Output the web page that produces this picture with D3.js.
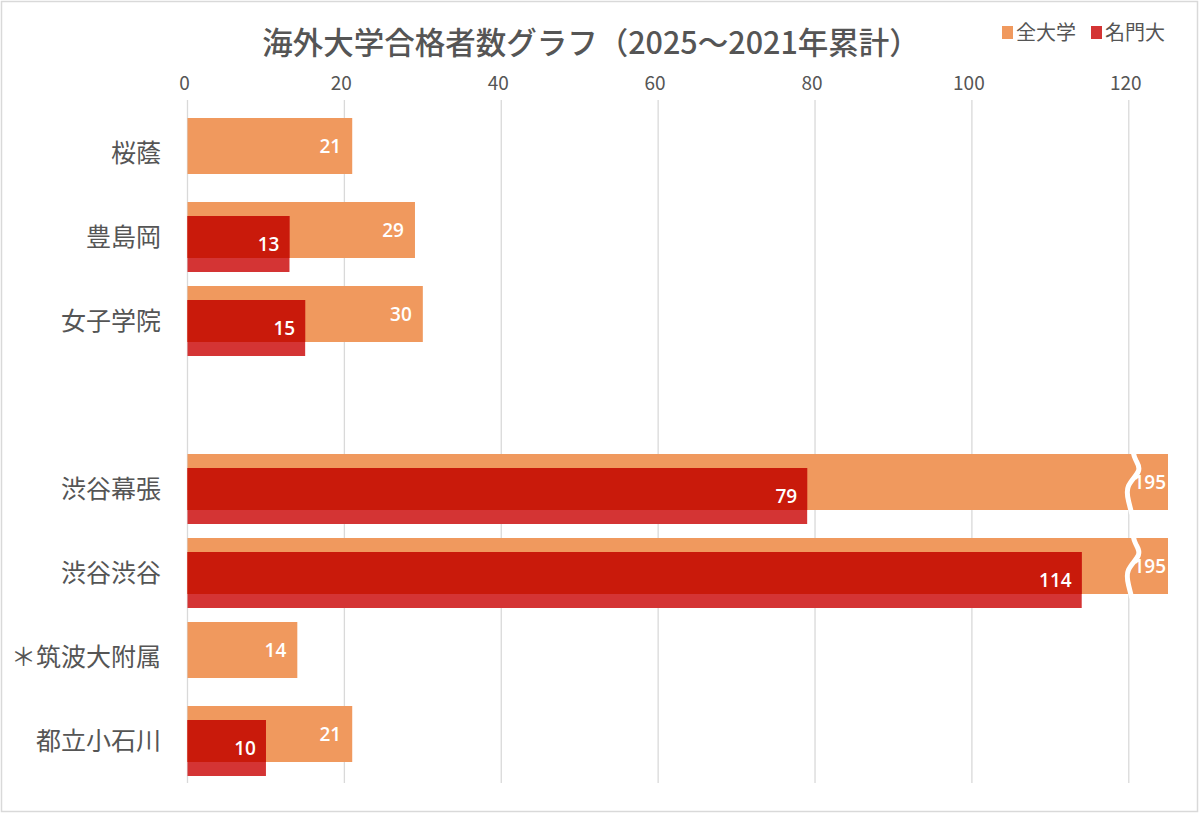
<!DOCTYPE html>
<html>
<head>
<meta charset="utf-8">
<script src="https://cdn.jsdelivr.net/npm/d3@7"></script>
<style>
  body { margin: 0; background: #fff; }
  svg { display: block; }
</style>
</head>
<body>
<svg id="chart" width="1200" height="815"></svg>
<script>
// data; "" is the empty row between the two groups
const schools = ["桜蔭", "豊島岡", "女子学院", "", "渋谷幕張", "渋谷渋谷", "＊筑波大附属", "都立小石川"];
const allUniv = [21, 29, 30, null, 195, 195, 14, 21];
const topUniv = [null, 13, 15, null, 79, 114, null, 10];
const xTicks = [0, 20, 40, 60, 80, 100, 120];
const seriesNames = ["全大学", "名門大"];
const axisMax = 125; // bars above this are cut with a break mark

const colors = { all: "#F0995E", top: "#D43434", topOver: "#C91A0B", text: "#555555", grid: "#D9D9D9" };
const jp = "'Noto Sans CJK JP', 'Noto Sans', sans-serif";

const svg = d3.select("#chart");

svg.append("rect")
  .attr("x", 1.5).attr("y", 1.5)
  .attr("width", 1196).attr("height", 810)
  .attr("fill", "#fff").attr("stroke", "#D9D9D9").attr("stroke-width", 1.5);

const x = d3.scaleLinear().domain([0, axisMax]).range([187.5, 1168]);
const y = d3.scaleBand().domain(d3.range(schools.length)).range([111, 783]);

// title
svg.append("text")
  .attr("x", 591).attr("y", 54)
  .attr("text-anchor", "middle")
  .attr("font-family", jp).attr("font-size", 30.5).attr("font-weight", 500)
  .attr("fill", colors.text)
  .text("海外大学合格者数グラフ（2025～2021年累計）");

// legend
const legend = svg.append("g").attr("font-family", jp).attr("font-size", 20).attr("fill", colors.text);
[[1002, colors.all], [1091, colors.top]].forEach(([lx, c], i) => {
  legend.append("rect").attr("x", lx).attr("y", 26).attr("width", 11).attr("height", 13).attr("fill", c);
  legend.append("text").attr("x", lx + 14).attr("y", 40).text(seriesNames[i]);
});

// grid + tick labels
svg.append("g").selectAll("line")
  .data(xTicks)
  .join("line")
  .attr("x1", d => x(d)).attr("x2", d => x(d))
  .attr("y1", 100).attr("y2", 783)
  .attr("stroke", colors.grid).attr("stroke-width", 1.3);

svg.append("g").selectAll("text")
  .data(xTicks)
  .join("text")
  .attr("x", d => x(d) - 3).attr("y", 90)
  .attr("text-anchor", "middle")
  .attr("font-family", jp).attr("font-size", 19)
  .attr("fill", colors.text)
  .text(d => d);

// category labels
svg.append("g").selectAll("text")
  .data(schools)
  .join("text")
  .attr("x", 161)
  .attr("y", (d, i) => y(i) + y.bandwidth() / 2 + 9)
  .attr("text-anchor", "end")
  .attr("font-family", jp).attr("font-size", 25)
  .attr("fill", colors.text)
  .text(d => d);

const barH = 56;
const rows = schools.map((s, i) => ({ i, all: allUniv[i], top: topUniv[i] }));
const mid = i => y(i) + y.bandwidth() / 2;

// all-university bars
const allRows = rows.filter(d => d.all != null);
svg.append("g").selectAll("rect")
  .data(allRows)
  .join("rect")
  .attr("x", x(0))
  .attr("y", d => mid(d.i) - 35)
  .attr("width", d => x(Math.min(d.all, axisMax)) - x(0))
  .attr("height", barH)
  .attr("fill", colors.all);

// top-university bars, offset down; the part over the orange bar is darker
const topRows = rows.filter(d => d.top != null);
const topG = svg.append("g");
topG.selectAll("rect.base")
  .data(topRows)
  .join("rect")
  .attr("class", "base")
  .attr("x", x(0))
  .attr("y", d => mid(d.i) - 21)
  .attr("width", d => x(d.top) - x(0))
  .attr("height", barH)
  .attr("fill", colors.top);
topG.selectAll("rect.over")
  .data(topRows)
  .join("rect")
  .attr("class", "over")
  .attr("x", x(0))
  .attr("y", d => mid(d.i) - 21)
  .attr("width", d => x(d.top) - x(0))
  .attr("height", barH - 14)
  .attr("fill", colors.topOver);

// break marks on cut bars
const wave = d3.line().curve(d3.curveBasis);
const cut = allRows.filter(d => d.all > axisMax);
svg.append("g").selectAll("path")
  .data(cut)
  .join("path")
  .attr("d", d => {
    const t = mid(d.i) - 35, cx = x(120) + 5;
    return wave([[cx - 1, t - 4], [cx + 1, t + 6], [cx + 9, t + 16], [cx - 9, t + 32], [cx - 5, t + 48], [cx - 2, t + barH + 4]]);
  })
  .attr("fill", "none").attr("stroke", "#fff").attr("stroke-width", 5);

// value labels
const lab = svg.append("g")
  .attr("font-family", "'Open Sans', sans-serif").attr("font-weight", 600)
  .attr("font-size", 19).attr("fill", "#fff");

lab.selectAll("text.all")
  .data(allRows)
  .join("text")
  .attr("class", "all")
  .attr("x", d => x(Math.min(d.all, axisMax)) - (d.all > axisMax ? 2 : 11))
  .attr("y", d => mid(d.i) - 7 + 7)
  .attr("text-anchor", "end")
  .text(d => d.all);

lab.selectAll("text.top")
  .data(topRows)
  .join("text")
  .attr("class", "top")
  .attr("x", d => x(d.top) - 10)
  .attr("y", d => mid(d.i) + 7 + 7)
  .attr("text-anchor", "end")
  .text(d => d.top);
</script>
</body>
</html>
